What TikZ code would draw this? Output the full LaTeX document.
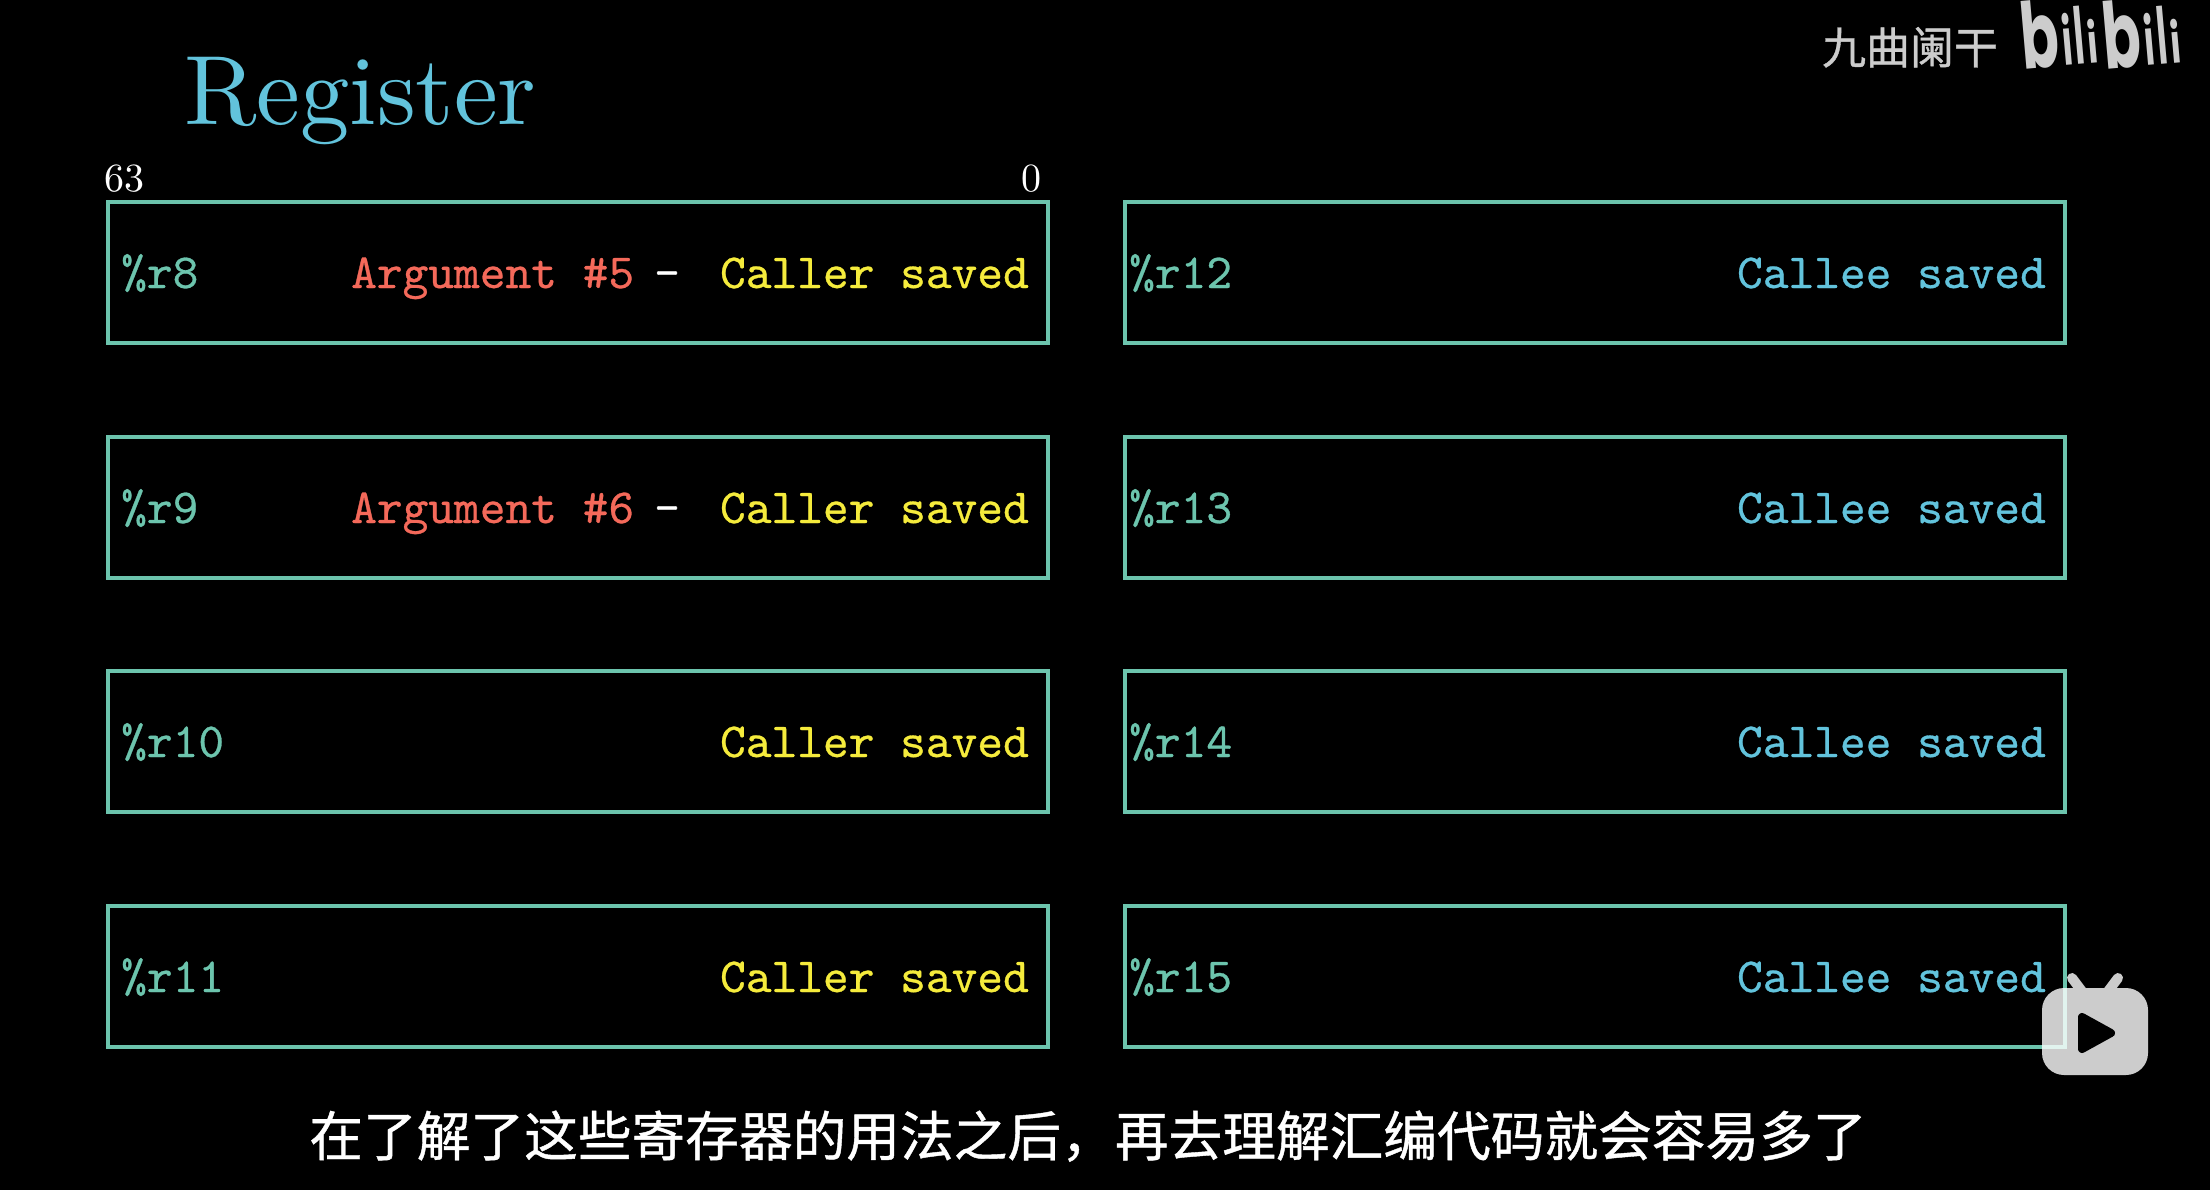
\documentclass[tikz,border=0pt]{standalone}
\usepackage{fontspec}
\newfontfamily\cjk{Noto Sans CJK SC}[FakeBold=0.8]
\newfontfamily\logofont{Poppins}
\newfontfamily\lmten{lmroman10-regular.otf}
\newfontfamily\lmtt{lmmono10-regular.otf}[FakeBold=0.6]
\definecolor{tealc}{HTML}{6CC4AD}
\definecolor{bluec}{HTML}{62C3DC}
\definecolor{yellowc}{HTML}{F5EB3C}
\definecolor{redc}{HTML}{F4695A}
\definecolor{wm}{HTML}{CCCCCC}
\tikzset{
  x=1pt,y=-1pt,
  regbox/.style={draw=tealc,line width=4pt,rectangle,minimum width=940pt,minimum height=141pt,inner sep=0pt,outer sep=0pt,anchor=north west},
  tt/.style={font=\fontsize{49}{49}\selectfont\lmtt,inner sep=0pt},
  reg/.style={tt,text=tealc,anchor=base west},
  caller/.style={tt,text=yellowc,anchor=base east},
  callee/.style={tt,text=bluec,anchor=base east},
  argu/.style={tt,text=redc,anchor=base west},
  dashl/.style={tt,text=white,anchor=base west},
  bitl/.style={font=\fontsize{40}{40}\selectfont\lmten,text=white,inner sep=0pt,anchor=base},
}
\begin{document}
\begin{tikzpicture}
\fill[black] (0,0) rectangle (2210,1190);
\useasboundingbox (0,0) rectangle (2210,1190);

\node[font=\fontsize{98.5}{98.5}\selectfont\lmten,text=bluec,inner sep=0pt,anchor=base west] (title) at (184,125) {Register};
\node[bitl] (b63) at (124,192) {63};
\node[bitl] (b0) at (1031,192) {0};

\foreach \nm/\xx/\yy/\lab/\off in {r8/108/202/r8/13,r9/108/437/r9/13,r10/108/671/r10/13,r11/108/906/r11/13,
                              r12/1125/202/r12/4,r13/1125/437/r13/4,r14/1125/671/r14/4,r15/1125/906/r15/4}{
  \node[regbox] (\nm) at (\xx,\yy) {};
  \node[reg] (l\nm) at ([xshift=\off pt,yshift=-86pt]\nm.north west) {\%\lab};
}
\foreach \nm in {r8,r9,r10,r11}{
  \node[caller] (c\nm) at ([xshift=-19pt,yshift=-86pt]\nm.north east) {Caller saved};
}
\foreach \nm in {r12,r13,r14,r15}{
  \node[callee] (c\nm) at ([xshift=-19pt,yshift=-86pt]\nm.north east) {Callee saved};
}
\node[argu] (a5) at (351,288) {Argument \#5};
\node[dashl] (d5) at (654,288) {-};
\node[argu] (a6) at (351,523) {Argument \#6};
\node[dashl] (d6) at (654,523) {-};

% subtitle
\node[font=\fontsize{53.7}{53.7}\selectfont\cjk,text=white,inner sep=0pt,anchor=base] (sub) at (1088,1156) {在了解了这些寄存器的用法之后，再去理解汇编代码就会容易多了};

% watermark
\node[font=\fontsize{44}{44}\selectfont\cjk,text=wm,inner sep=0pt,anchor=base] (wmt) at (1910,64) {九曲阑干};
\node[font=\bfseries\logofont,text=wm,inner sep=0pt,anchor=base west] (wml) at (2017,66) {%
  \rotatebox[origin=c]{5}{\resizebox{38pt}{68pt}{b}\hspace{3pt}\resizebox{10pt}{52pt}{i}\hspace{3pt}\resizebox{10pt}{58pt}{l}\hspace{3pt}\resizebox{10pt}{44pt}{i}}%
  \rotatebox[origin=c]{5}{\resizebox{38pt}{68pt}{b}\hspace{3pt}\resizebox{10pt}{52pt}{i}\hspace{3pt}\resizebox{10pt}{58pt}{l}\hspace{3pt}\resizebox{10pt}{44pt}{i}}};

% play icon
\begin{scope}[transparency group,opacity=0.8]
  \fill[white,rounded corners=22pt] (2042,988) rectangle (2148,1075);
  \draw[white,line width=10pt,line cap=round] (2072,978) -- (2084,994);
  \draw[white,line width=10pt,line cap=round] (2118,978) -- (2106,994);
\end{scope}
\fill[black,draw=black,line width=8pt,line join=round] (2082,1017) -- (2082,1049) -- (2111,1033) -- cycle;
\end{tikzpicture}
\end{document}
